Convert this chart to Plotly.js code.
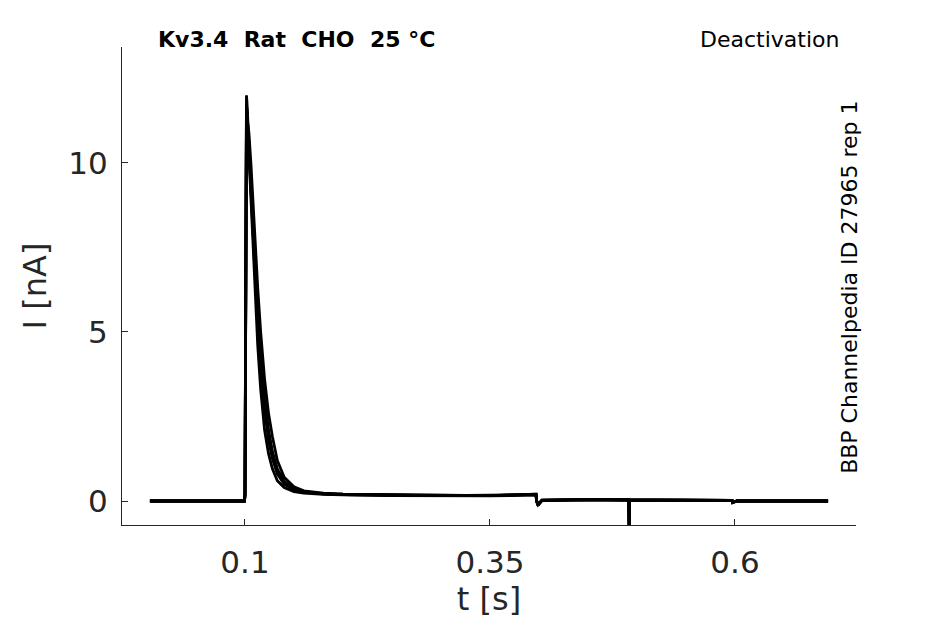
<!DOCTYPE html>
<html>
<head>
<meta charset="utf-8">
<script src="https://cdn.plot.ly/plotly-3.0.1.min.js"></script>
<style>html,body{margin:0;padding:0;background:#fff;}#chart{width:945px;height:624px;}</style>
</head>
<body>
<div id="chart"></div>
<script>
// time (s), shared by every sweep
var timeS = [0.003, 0.05, 0.0995, 0.1, 0.1005, 0.101, 0.1015, 0.102, 0.104, 0.106, 0.108, 0.110, 0.113, 0.116, 0.120, 0.124, 0.128, 0.133, 0.14, 0.15, 0.16, 0.18, 0.2, 0.25, 0.3, 0.35, 0.397, 0.3975, 0.399, 0.403, 0.45, 0.4915, 0.492, 0.4925, 0.55, 0.597, 0.5975, 0.599, 0.602, 0.65, 0.695];

// current (nA) of each sweep
var sweep1 = [0, 0, 0, 0.2, 5.0, 10.0, 12.0, 11.8, 10.7, 9.4, 8.1, 6.9, 5.3, 4.0, 2.7, 1.8, 1.25, 0.8, 0.5, 0.33, 0.26, 0.21, 0.19, 0.17, 0.16, 0.17, 0.2, 0.0, -0.12, 0.02, 0.04, 0.03, -0.8, 0.03, 0.02, 0.02, -0.05, -0.03, 0.0, 0.0, 0.0];
var sweep2 = [0, 0, 0, 0.2, 4.5, 9.5, 11.4, 11.3, 10.9, 10.0, 8.9, 7.8, 6.3, 5.0, 3.6, 2.6, 1.9, 1.2, 0.7, 0.42, 0.3, 0.23, 0.2, 0.18, 0.17, 0.16, 0.19, 0.02, -0.1, 0.03, 0.05, 0.04, -0.7, 0.04, 0.03, 0.02, -0.04, -0.02, 0.0, 0.0, 0.0];
var sweep3 = [0, 0, 0, 0.2, 4.8, 9.8, 11.7, 11.5, 10.2, 8.7, 7.4, 6.2, 4.6, 3.3, 2.1, 1.4, 0.95, 0.6, 0.4, 0.28, 0.23, 0.2, 0.18, 0.16, 0.15, 0.15, 0.18, 0.0, -0.13, 0.01, 0.03, 0.03, -0.75, 0.03, 0.02, 0.01, -0.05, -0.03, 0.0, 0.0, 0.0];
var sweep4 = [0, 0, 0, 0.2, 4.2, 9.0, 11.0, 10.9, 10.4, 9.2, 8.0, 6.9, 5.5, 4.2, 2.9, 2.0, 1.4, 0.9, 0.55, 0.36, 0.27, 0.22, 0.2, 0.18, 0.16, 0.16, 0.19, 0.01, -0.11, 0.02, 0.04, 0.03, -0.72, 0.03, 0.02, 0.02, -0.04, -0.02, 0.0, 0.0, 0.0];
var sweep5 = [0, 0, 0, 0.2, 4.6, 9.6, 11.6, 11.6, 10.6, 9.6, 8.4, 7.2, 5.7, 4.4, 3.0, 2.1, 1.45, 0.95, 0.58, 0.36, 0.27, 0.21, 0.19, 0.17, 0.16, 0.16, 0.2, 0.0, -0.12, 0.02, 0.04, 0.03, -0.78, 0.03, 0.02, 0.02, -0.05, -0.03, 0.0, 0.0, 0.0];

var sweeps = [sweep1, sweep2, sweep3, sweep4, sweep5];

var xTickVals = [0.1, 0.35, 0.6];
var xTickText = ['0.1', '0.35', '0.6'];
var yTickVals = [0, 5, 10];
var yTickText = ['0', '5', '10'];

var titleLeft = 'Kv3.4\u00a0\u00a0Rat\u00a0\u00a0CHO\u00a0\u00a025\u00a0\u00b0C';
var titleRight = 'Deactivation';
var sideLabel = 'BBP Channelpedia ID 27965 rep 1';
var xTitle = 't [s]';
var yTitle = 'I [nA]';

var FONT = 'DejaVu Sans, sans-serif';
var INK = '#262626';

var traces = sweeps.map(function (s) {
  return {
    x: timeS, y: s, type: 'scatter', mode: 'lines',
    line: {color: '#000000', width: 2.8},
    hoverinfo: 'skip', showlegend: false
  };
});

var layout = {
  width: 945, height: 624,
  margin: {l: 122, r: 89, t: 47, b: 99, pad: 0},
  paper_bgcolor: '#ffffff', plot_bgcolor: '#ffffff',
  showlegend: false,
  xaxis: {
    range: [-0.0255, 0.7235],
    tickvals: xTickVals, ticktext: xTickText,
    ticks: 'inside', ticklen: 6, tickwidth: 1, tickcolor: INK,
    showline: true, linecolor: INK, linewidth: 1,
    showgrid: false, zeroline: false,
    tickfont: {family: FONT, size: 31, color: INK},
    ticklabelstandoff: 10,
    title: {text: xTitle, font: {family: FONT, size: 32, color: INK}, standoff: 8}
  },
  yaxis: {
    range: [-0.71, 13.43],
    tickvals: yTickVals, ticktext: yTickText,
    ticks: 'inside', ticklen: 6, tickwidth: 1, tickcolor: INK,
    showline: true, linecolor: INK, linewidth: 1,
    showgrid: false, zeroline: false,
    tickfont: {family: FONT, size: 31, color: INK},
    ticklabelstandoff: 7,
    title: {text: yTitle, font: {family: FONT, size: 32, color: INK}, standoff: 12}
  },
  annotations: [
    {text: '<b>' + titleLeft + '</b>', xref: 'paper', yref: 'paper', x: 0.238, y: 1.0, yshift: 8,
     xanchor: 'center', yanchor: 'middle', showarrow: false,
     font: {family: FONT, size: 22, color: '#000000'}},
    {text: titleRight, xref: 'paper', yref: 'paper', x: 0.979, y: 1.0, yshift: 8,
     xanchor: 'right', yanchor: 'middle', showarrow: false,
     font: {family: FONT, size: 22, color: '#000000'}},
    {text: sideLabel, xref: 'paper', yref: 'paper', x: 0.991, y: 0.497,
     xanchor: 'center', yanchor: 'middle', textangle: -90, showarrow: false,
     font: {family: FONT, size: 22, color: '#000000'}}
  ]
};

Plotly.newPlot('chart', traces, layout, {staticPlot: true, displayModeBar: false});
</script>
</body>
</html>
